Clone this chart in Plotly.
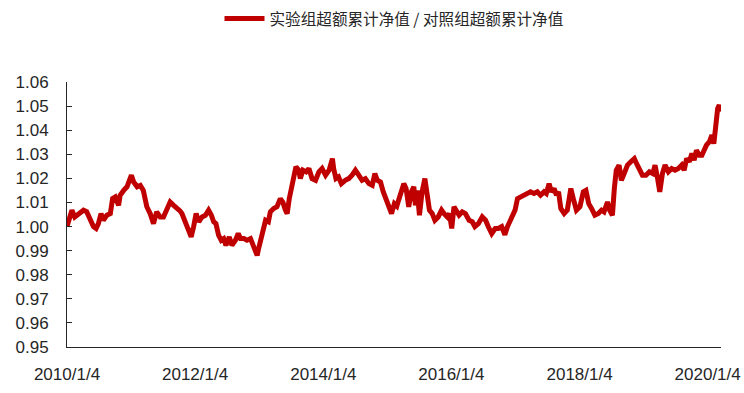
import plotly.graph_objects as go

dates = [
    "2010-01-04","2010-01-14","2010-02-01","2010-02-17","2010-03-10","2010-04-08","2010-04-26","2010-05-15",
    "2010-06-04","2010-06-19","2010-07-02","2010-07-17","2010-07-30","2010-08-19","2010-09-08","2010-09-21",
    "2010-10-06","2010-10-25","2010-11-03","2010-11-23","2010-12-12","2011-01-06","2011-01-19","2011-02-08",
    "2011-02-26","2011-03-15","2011-04-04","2011-04-23","2011-05-12","2011-05-30","2011-06-19","2011-07-08",
    "2011-07-26","2011-08-15","2011-09-04","2011-09-23","2011-10-10","2011-10-21","2011-11-09","2011-11-29",
    "2011-12-13","2011-12-27","2012-01-10","2012-01-25","2012-02-13","2012-03-03","2012-03-21","2012-04-06",
    "2012-04-19","2012-05-02","2012-05-17","2012-06-01","2012-06-15","2012-06-28","2012-07-17","2012-08-01",
    "2012-08-21","2012-09-06","2012-09-19","2012-10-08","2012-10-26","2012-11-15","2012-11-29","2012-12-13",
    "2012-12-23","2012-12-30","2013-01-11","2013-01-25","2013-02-09","2013-02-25","2013-03-08","2013-03-27",
    "2013-04-15","2013-05-04","2013-05-19","2013-06-01","2013-06-12","2013-06-24","2013-07-10","2013-07-19",
    "2013-08-01","2013-08-17","2013-08-26","2013-09-10","2013-09-28","2013-10-14","2013-11-01","2013-11-21",
    "2013-12-10","2013-12-28","2014-01-17","2014-02-06","2014-02-25","2014-03-04","2014-03-17","2014-04-01",
    "2014-04-17","2014-05-09","2014-05-29","2014-06-17","2014-07-06","2014-07-25","2014-08-13","2014-09-01",
    "2014-09-21","2014-10-10","2014-10-25","2014-11-08","2014-11-26","2014-12-12","2014-12-28","2015-01-14",
    "2015-01-28","2015-02-13","2015-02-27","2015-03-06","2015-03-24","2015-04-08","2015-04-21","2015-05-06",
    "2015-05-21","2015-06-04","2015-06-13","2015-06-23","2015-07-06","2015-07-21","2015-08-06","2015-08-19",
    "2015-09-01","2015-09-17","2015-10-02","2015-10-21","2015-11-09","2015-11-23","2015-12-12","2015-12-24",
    "2016-01-06","2016-01-19","2016-02-01","2016-02-17","2016-03-06","2016-03-24","2016-04-14","2016-05-02",
    "2016-05-17","2016-06-06","2016-06-28","2016-07-17","2016-08-01","2016-08-21","2016-09-10","2016-09-28",
    "2016-10-17","2016-11-04","2016-11-19","2016-12-02","2016-12-17","2017-01-01","2017-01-15","2017-02-04",
    "2017-02-23","2017-03-12","2017-03-30","2017-04-19","2017-05-08","2017-05-26","2017-06-15","2017-06-28",
    "2017-07-14","2017-07-28","2017-08-12","2017-08-25","2017-09-06","2017-09-19","2017-10-08","2017-10-26",
    "2017-11-15","2017-11-29","2017-12-17","2018-01-06","2018-01-25","2018-02-09","2018-02-25","2018-03-13",
    "2018-04-01","2018-04-21","2018-05-09","2018-05-23","2018-06-12","2018-06-24","2018-07-10","2018-07-21",
    "2018-08-01","2018-08-17","2018-08-30","2018-09-15","2018-10-04","2018-10-23","2018-11-12","2018-11-25",
    "2018-12-10","2018-12-28","2019-01-17","2019-02-06","2019-02-25","2019-03-10","2019-03-23","2019-04-06",
    "2019-04-21","2019-05-06","2019-05-25","2019-06-13","2019-07-02","2019-07-21","2019-08-09","2019-08-23",
    "2019-09-06","2019-09-21","2019-10-06","2019-10-19","2019-11-01","2019-11-17","2019-12-02","2019-12-15",
    "2019-12-28","2020-01-14","2020-01-28","2020-02-08","2020-02-17","2020-03-01","2020-03-10","2020-03-19",
]

ratio = [
    1.0000,1.0030,1.0068,1.0040,1.0054,1.0068,1.0062,1.0033,
    1.0000,0.9992,1.0012,1.0054,1.0026,1.0047,1.0054,1.0116,
    1.0123,1.0088,1.0130,1.0150,1.0165,1.0213,1.0185,1.0165,
    1.0171,1.0150,1.0082,1.0054,1.0012,1.0061,1.0040,1.0040,
    1.0068,1.0102,1.0088,1.0078,1.0065,1.0054,1.0020,0.9985,
    0.9957,1.0000,1.0054,1.0020,1.0040,1.0047,1.0068,1.0047,
    1.0020,1.0012,0.9964,0.9943,0.9950,0.9922,0.9957,0.9922,
    0.9943,0.9971,0.9950,0.9950,0.9943,0.9950,0.9922,0.9895,
    0.9880,0.9905,0.9937,0.9985,1.0026,1.0020,1.0061,1.0075,
    1.0082,1.0116,1.0100,1.0070,1.0054,1.0116,1.0171,1.0213,
    1.0248,1.0234,1.0199,1.0234,1.0227,1.0241,1.0199,1.0192,
    1.0227,1.0241,1.0213,1.0234,1.0282,1.0241,1.0199,1.0206,
    1.0178,1.0192,1.0199,1.0213,1.0234,1.0213,1.0192,1.0199,
    1.0178,1.0171,1.0220,1.0192,1.0185,1.0144,1.0116,1.0075,
    1.0054,1.0095,1.0085,1.0102,1.0144,1.0178,1.0158,1.0082,
    1.0144,1.0165,1.0088,1.0150,1.0047,1.0144,1.0199,1.0123,
    1.0068,1.0054,1.0026,1.0040,1.0068,1.0054,1.0040,1.0054,
    0.9992,1.0082,1.0061,1.0047,1.0061,1.0054,1.0026,1.0020,
    1.0000,1.0012,1.0040,1.0026,1.0000,0.9971,0.9992,0.9992,
    1.0000,0.9966,1.0000,1.0020,1.0033,1.0068,1.0116,1.0123,
    1.0130,1.0137,1.0144,1.0137,1.0144,1.0130,1.0144,1.0137,
    1.0178,1.0144,1.0158,1.0130,1.0144,1.0075,1.0054,1.0068,
    1.0158,1.0116,1.0068,1.0082,1.0144,1.0150,1.0095,1.0075,
    1.0047,1.0054,1.0068,1.0061,1.0102,1.0068,1.0047,1.0158,
    1.0234,1.0255,1.0192,1.0220,1.0255,1.0269,1.0282,1.0261,
    1.0241,1.0213,1.0213,1.0227,1.0220,1.0255,1.0206,1.0144,
    1.0220,1.0255,1.0227,1.0241,1.0234,1.0241,1.0255,1.0234,
    1.0282,1.0269,1.0303,1.0275,1.0317,1.0296,1.0296,1.0317,
    1.0338,1.0352,1.0380,1.0344,1.0420,1.0490,1.0504,1.0477,
]

series_name = "实验组超额累计净值 / 对照组超额累计净值"
x_ticks = ["2010-01-04", "2012-01-04", "2014-01-04", "2016-01-04", "2018-01-04", "2020-01-04"]
x_tick_labels = ["2010/1/4", "2012/1/4", "2014/1/4", "2016/1/4", "2018/1/4", "2020/1/4"]
y_ticks = [0.95, 0.96, 0.97, 0.98, 0.99, 1.00, 1.01, 1.02, 1.03, 1.04, 1.05, 1.06]
y_tick_labels = ["%.2f" % v for v in y_ticks]

fig = go.Figure()
fig.add_trace(go.Scatter(
    x=dates, y=ratio, mode="lines", name=series_name,
    line=dict(color="#C00000", width=5),
))

tick_font = dict(family="Liberation Sans, Arial", size=17, color="#262626")

fig.update_layout(
    width=744, height=393,
    margin=dict(l=67, r=23, t=82, b=46),
    paper_bgcolor="white", plot_bgcolor="white",
    showlegend=True,
    legend=dict(orientation="h", x=0.5, xanchor="center", xref="paper",
                y=0.995, yref="container", yanchor="top",
                font=dict(family="Noto Sans CJK SC", size=15.6, color="#262626"),
                itemwidth=40),
    xaxis=dict(type="date", range=["2010-01-04", "2020-03-20"], automargin=False,
               tickvals=x_ticks, ticktext=x_tick_labels,
               showgrid=False, zeroline=False, showline=True, linecolor="#262626", linewidth=1,
               ticks="", tickfont=tick_font, ticklabelstandoff=12),
    yaxis=dict(range=[0.95, 1.06], tickvals=y_ticks, ticktext=y_tick_labels, automargin=False,
               showgrid=False, zeroline=False, showline=True, linecolor="#262626", linewidth=1,
               ticks="inside", ticklen=5, tickcolor="#262626",
               tickfont=tick_font, ticklabelstandoff=14),
)

fig.write_html("out.html")
